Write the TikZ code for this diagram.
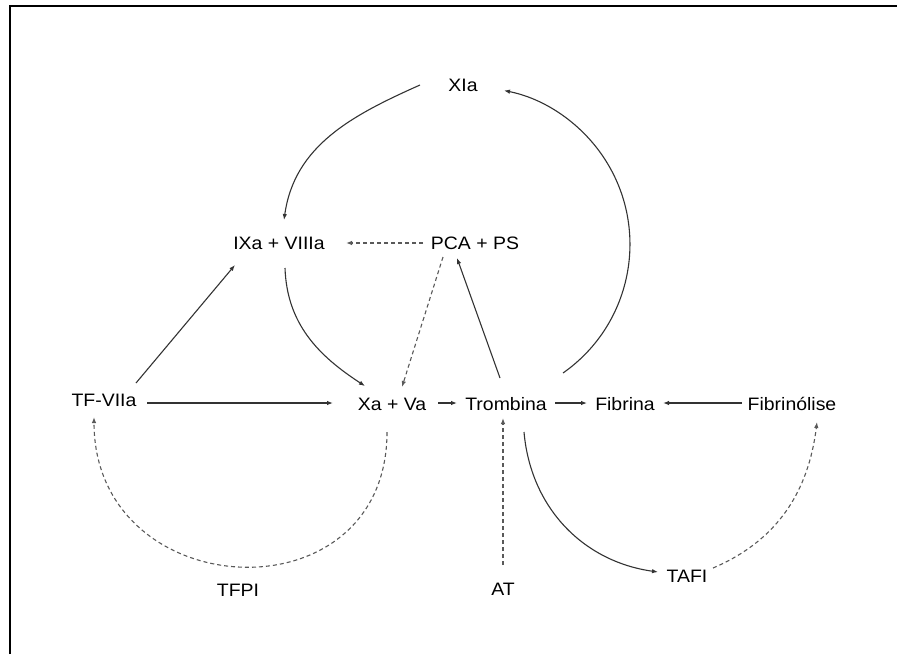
\documentclass[tikz,border=0pt]{standalone}
\usepackage{fontspec}
\setmainfont{Liberation Sans}[FakeStretch=1.08]
\usetikzlibrary{arrows.meta}
\begin{document}
\begin{tikzpicture}[x=1pt,y=1pt,
  lbl/.style={anchor=base,inner sep=0pt,font=\fontsize{18}{21}\selectfont,text=black},
  conn/.style={draw=black!80,line width=1.1pt,-{Latex[length=6pt,width=4.5pt]}},
  dconn/.style={conn,draw=black!65,dash pattern=on 4pt off 3pt}]
\useasboundingbox (0,0) rectangle (897,-654);
\draw[line width=2pt] (9.7,-654) -- (9.7,-6) -- (897,-6);
\node[lbl] (XIa) at (463,-91) {XIa};
\node[lbl] (IX) at (279,-249) {IXa + VIIIa};
\node[lbl] (PCA) at (475,-249) {PCA + PS};
\node[lbl] (TF) at (104,-406) {TF-VIIa};
\node[lbl] (Xa) at (392,-410) {Xa + Va};
\node[lbl] (Tr) at (506,-410) {Trombina};
\node[lbl] (Fb) at (625,-410) {Fibrina};
\node[lbl] (Fl) at (792,-410) {Fibrinólise};
\node[lbl] (TFPI) at (238,-596) {TFPI};
\node[lbl] (AT) at (503,-595) {AT};
\node[lbl] (TAFI) at (687,-582) {TAFI};
% connectors
\draw[conn] ([shift={(-43,6)}]XIa.base) to[out=204,in=82] ([shift={(5,29)}]IX.base);
\draw[conn] ([shift={(57,37)}]Tr.base) arc[start angle=-55,end angle=78.6,radius=157];
\draw[conn] ([shift={(6,-19)}]IX.base) to[out=-88,in=147] ([shift={(-27,24)}]Xa.base);
\draw[dconn] ([shift={(-52,6)}]PCA.base) -- ([shift={(67,6)}]IX.base);
\draw[dconn] ([shift={(-32,-8)}]PCA.base) -- ([shift={(10,23)}]Xa.base);
\draw[conn] ([shift={(-6,32)}]Tr.base) -- ([shift={(-18,-9)}]PCA.base);
\draw[conn] ([shift={(32,23)}]TF.base) -- ([shift={(-44,-16)}]IX.base);
\draw[conn] ([shift={(43,3)}]TF.base) -- ([shift={(-59,7)}]Xa.base);
\draw[conn] ([shift={(46,7)}]Xa.base) -- ([shift={(-49,7)}]Tr.base);
\draw[conn] ([shift={(49,7)}]Tr.base) -- ([shift={(-38,7)}]Fb.base);
\draw[conn] ([shift={(-50,7)}]Fl.base) -- ([shift={(38,7)}]Fb.base);
\draw[dconn] ([shift={(0,30)}]AT.base) -- ([shift={(-3,-8)}]Tr.base);
\draw[conn] ([shift={(18,-22)}]Tr.base) to[out=-85,in=172] ([shift={(-29,10)}]TAFI.base);
\draw[dconn] ([shift={(26,14)}]TAFI.base) to[out=23,in=-97] ([shift={(25,-12)}]Fl.base);
\draw[dconn] ([shift={(-5,-22)}]Xa.base) to[out=-90,in=-90,looseness=1.65] ([shift={(-10,-11)}]TF.base);
\end{tikzpicture}
\end{document}
